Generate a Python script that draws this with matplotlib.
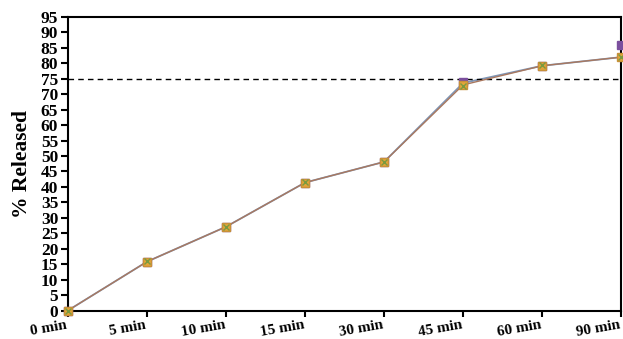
import numpy as np
import matplotlib.pyplot as plt

times = ['0 min', '5 min', '10 min', '15 min', '30 min', '45 min', '60 min', '90 min']
f_a = [0, 15.8, 27.1, 41.4, 48.1, 74.0, 79.2, 86.0]
f_blue = [0, 15.8, 27.1, 41.4, 48.1, 73.6, 79.2, 82.0]
f_b = [0, 15.8, 27.1, 41.4, 48.1, 73.0, 79.2, 82.0]
f_c = [0, 15.9, 27.0, 41.5, 48.0, 72.8, 79.3, 82.2]
y_ticks = list(range(0, 100, 5))

plt.rcParams['font.family'] = ['Liberation Serif', 'DejaVu Serif']
plt.rcParams['font.weight'] = 'bold'

fig = plt.figure(figsize=(6.23, 3.39), dpi=100)
ax = fig.add_axes([0.109, 0.084, 0.888, 0.866])
x = np.arange(len(times))

ax.plot(x, f_blue, color='#7f95b5', lw=1.3, clip_on=False, zorder=2)
ax.plot(x, f_a, ls='none', marker='s', ms=5.5, mfc='#7b4f9e', mec='#7b4f9e', clip_on=False, zorder=3)
ax.plot(x, f_b, color='#a9785f', lw=1.0, marker='s', ms=5.5, mfc='#e3a43a', mec='#c89038', clip_on=False, zorder=4)
ax.plot(x, f_c, ls='none', marker='x', ms=4.5, mew=1.0, mec='#7a9a40', clip_on=False, zorder=5)
ax.axhline(75, color='black', ls='--', lw=1.0, dashes=(4, 3))

ax.set_xlim(0, 7)
ax.set_ylim(0, 95)
ax.set_yticks(y_ticks)
ax.set_xticks(x)
ax.set_xticklabels(times, rotation=10, fontsize=11, fontweight='bold')
ax.tick_params(axis='x', direction='out', length=4, width=1.5, pad=2)
ax.tick_params(axis='y', direction='out', length=5, width=1.5, labelsize=12.5, pad=2)
for lab in ax.get_xticklabels():
    lab.set_ha('right')
for lab in ax.get_yticklabels():
    lab.set_fontweight('bold')
for s in ax.spines.values():
    s.set_linewidth(1.5)
ax.set_ylabel('% Released', fontsize=15.5, fontweight='bold', labelpad=6)

fig.savefig('out.png', dpi=100)
